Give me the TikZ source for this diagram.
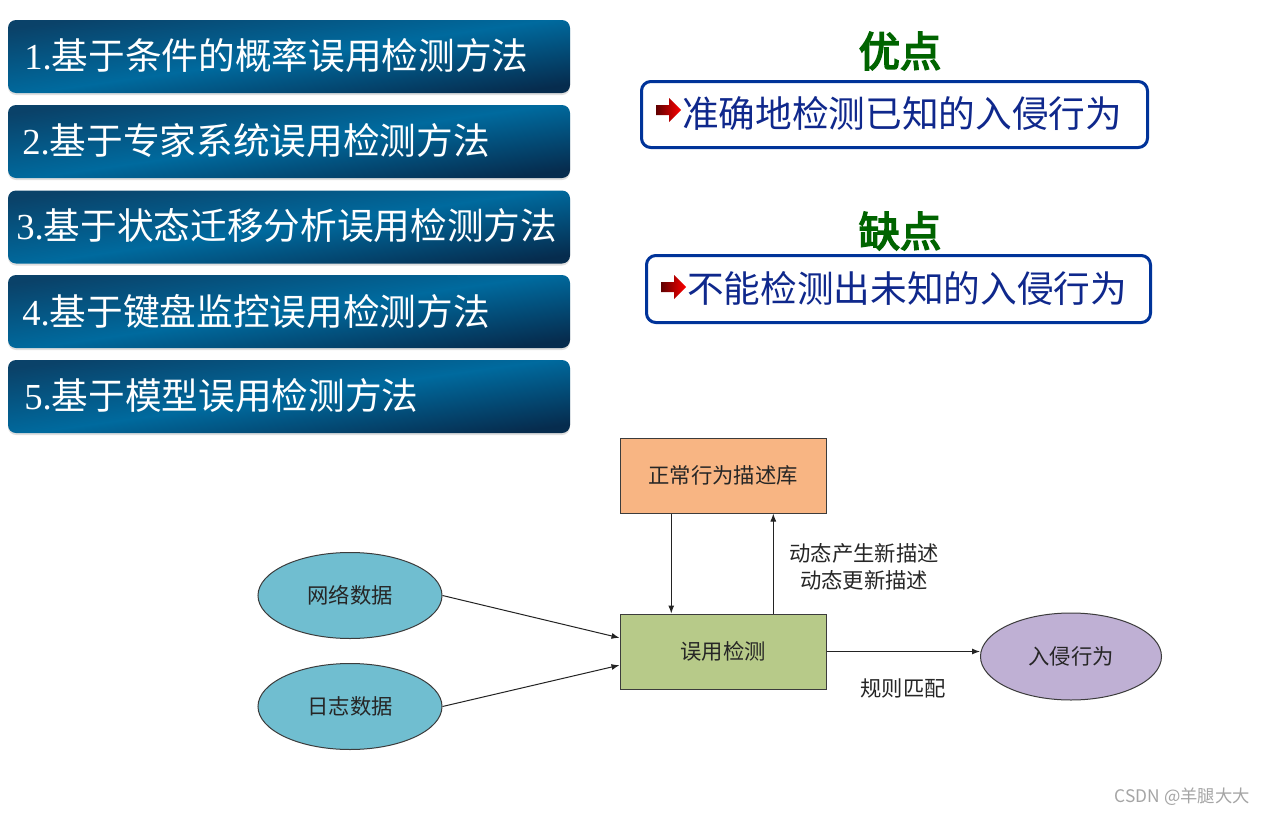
\documentclass[tikz,border=0pt]{standalone}
\usepackage{fontspec}
\setmainfont{Noto Sans CJK SC}
\newfontfamily\cjkbold[FakeBold=4]{Noto Sans CJK SC}
\newfontfamily\numfont{Liberation Serif}
\usetikzlibrary{shapes.geometric,arrows.meta,calc,shadows}
\definecolor{lbdark}{RGB}{6,44,78}
\definecolor{lbmid}{RGB}{0,106,158}
\definecolor{lbtop}{RGB}{10,66,105}
\definecolor{rbblue}{RGB}{0,51,153}
\definecolor{rtext}{RGB}{15,40,140}
\definecolor{tgreen}{RGB}{0,100,0}
\definecolor{liborange}{RGB}{248,181,131}
\definecolor{detgreen}{RGB}{183,202,137}
\definecolor{ellblue}{RGB}{112,190,208}
\definecolor{elllav}{RGB}{191,176,212}
\definecolor{lineg}{RGB}{35,35,35}
\definecolor{bordg}{RGB}{60,60,60}
\definecolor{wm}{RGB}{165,165,165}
\definecolor{arrdark}{RGB}{95,0,0}
\begin{document}
\begin{tikzpicture}[x=0.75pt,y=-0.75pt,
  leftbox/.style={rounded corners=6pt, top color=lbtop, bottom color=lbdark, middle color=lbmid, shading angle=8,
    minimum width=421.5pt, minimum height=54.75pt, inner sep=0pt,
    drop shadow={shadow xshift=0pt,shadow yshift=-1.5pt,opacity=0.25}},
  lefttext/.style={anchor=west, inner sep=0pt, text=white, font=\fontsize{27.5}{30}\selectfont},
  rbox/.style={draw=rbblue, line width=2.25pt, rounded corners=7pt, fill=white, inner sep=0pt},
  rtxt/.style={anchor=west, inner sep=0pt, text=rtext, font=\fontsize{27.5}{30}\selectfont},
  title/.style={text=tgreen, inner sep=0pt, font=\cjkbold\fontsize{31}{33}\selectfont},
  icon/.style={left color=arrdark, right color=red, draw=none},
  fbox/.style={draw=bordg, line width=0.75pt, minimum width=154.5pt, minimum height=56.25pt, inner sep=0pt,
    font=\fontsize{16}{20}\selectfont, text=black!85},
  fell/.style={ellipse, draw=bordg, line width=0.75pt, inner sep=0pt, font=\fontsize{16}{20}\selectfont, text=black!85},
  lbl/.style={inner sep=0pt, font=\fontsize{16}{20.25}\selectfont, text=black!85, align=center},
  arr/.style={draw=lineg, line width=0.75pt, -{Latex[length=6pt,width=4.5pt]}}
]
\useasboundingbox[fill=white] (0,0) rectangle (1265,814);

% left boxes
\node[leftbox] (b1) at (289,56.5) {};
\node[leftbox] (b2) at (289,141.5) {};
\node[leftbox] (b3) at (289,227) {};
\node[leftbox] (b4) at (289,311.5) {};
\node[leftbox] (b5) at (289,396.5) {};
\node[lefttext] (t1) at (24,56) {{\numfont 1.}基于条件的概率误用检测方法};
\node[lefttext] (t2) at (22,141) {{\numfont 2.}基于专家系统误用检测方法};
\node[lefttext] (t3) at (16,226) {{\numfont 3.}基于状态迁移分析误用检测方法};
\node[lefttext] (t4) at (22,311) {{\numfont 4.}基于键盘监控误用检测方法};
\node[lefttext] (t5) at (24,396) {{\numfont 5.}基于模型误用检测方法};

% advantages / disadvantages
\node[title] (adv) at (900,51) {优点};
\node[rbox, minimum width=379.5pt, minimum height=49.5pt] (advbox) at (894.5,114.5) {};
\path[icon] (656,105) -- (669,105) -- (669,98) -- (681,110) -- (669,122) -- (669,115) -- (656,115) -- cycle;
\node[rtxt] (advt) at (682,113) {准确地检测已知的入侵行为};

\node[title] (dis) at (900,231) {缺点};
\node[rbox, minimum width=378pt, minimum height=50.25pt] (disbox) at (898.5,289) {};
\path[icon] (661,282) -- (674,282) -- (674,275) -- (686,287) -- (674,299) -- (674,292) -- (661,292) -- cycle;
\node[rtxt] (dist) at (687,288) {不能检测出未知的入侵行为};

% flow diagram
\node[fbox, fill=liborange] (lib) at (723,475.5) {正常行为描述库};
\node[fbox, fill=detgreen] (det) at (723,651.5) {误用检测};
\node[fell, fill=ellblue, minimum width=138pt, minimum height=64.5pt] (net) at (350,595.5) {网络数据};
\node[fell, fill=ellblue, minimum width=138pt, minimum height=64.5pt] (log) at (350,706.5) {日志数据};
\node[fell, fill=elllav, minimum width=135.75pt, minimum height=65.25pt] (ib) at (1071,656.5) {入侵行为};

\draw[arr] ($(lib.south west)!0.25!(lib.south east)$) -- ($(det.north west)!0.25!(det.north east)$);
\draw[arr] ($(det.north west)!0.743!(det.north east)$) -- ($(lib.south west)!0.743!(lib.south east)$);
\draw[arr] (net.east) -- ($(det.north west)!0.32!(det.south west)$);
\draw[arr] (log.east) -- ($(det.north west)!0.68!(det.south west)$);
\draw[arr] (det.east) -- (det.east -| ib.west);

\node[lbl] (dyn) at (864,566.5) {动态产生新描述\\动态更新描述};
\node[lbl] (rule) at (903,688) {规则匹配};

\node[anchor=east, inner sep=0pt, text=wm, font=\fontsize{13}{15}\selectfont] (wmk) at (1250,797) {CSDN @羊腿大大};
\end{tikzpicture}
\end{document}
